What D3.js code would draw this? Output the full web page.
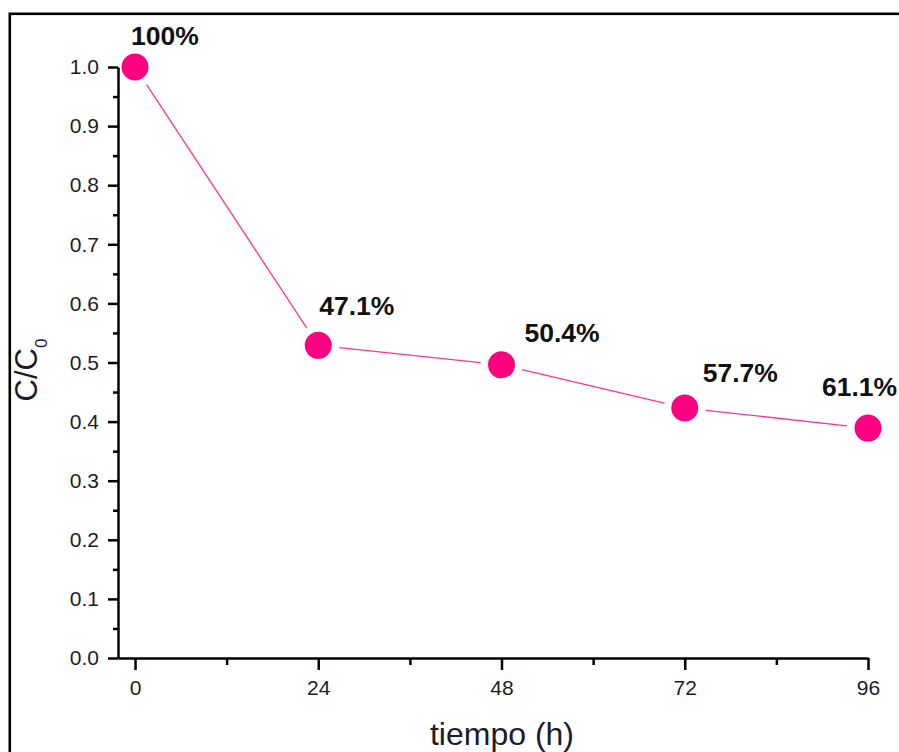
<!DOCTYPE html>
<html>
<head>
<meta charset="utf-8">
<script src="https://cdn.jsdelivr.net/npm/d3@7"></script>
<style>
  html, body { margin: 0; padding: 0; background: #fff; }
  svg { display: block; }
  text { font-family: Arial, "Liberation Sans", sans-serif; }
</style>
</head>
<body>
<svg id="chart" width="899" height="752"></svg>
<script>
// ---- data ----
const times = [0, 24, 48, 72, 96];
const ratios = [1.0, 0.529, 0.496, 0.423, 0.389];
const labels = ["100%", "47.1%", "50.4%", "57.7%", "61.1%"];
const xTicks = [0, 24, 48, 72, 96];
const xMinorTicks = [12, 36, 60, 84];
const yTicks = [0, 0.1, 0.2, 0.3, 0.4, 0.5, 0.6, 0.7, 0.8, 0.9, 1.0];
const yMinorTicks = [0.05, 0.15, 0.25, 0.35, 0.45, 0.55, 0.65, 0.75, 0.85, 0.95];

// ---- layout ----
const labelOffsets = [[-4, -22], [1, -30], [23, -23], [18, -26], [-46, -32]];
const svg = d3.select("#chart");
const x = d3.scaleLinear().domain([-2.23, 96]).range([118, 868]);
const y = d3.scaleLinear().domain([0, 1]).range([658, 67]);
const pink = "#ff0080";
const lineColor = "#ff3399";
const textColor = "#1c1c28";

// outer frame
svg.append("rect")
  .attr("x", 9.8).attr("y", 13.8)
  .attr("width", 1000).attr("height", 1000)
  .attr("fill", "none").attr("stroke", "#000").attr("stroke-width", 2.6);

// x axis
const gx = svg.append("g").attr("transform", `translate(0,${y(0)})`);
gx.call(d3.axisBottom(x).tickValues(xTicks).tickSize(12).tickSizeOuter(0).tickPadding(10).tickFormat(d3.format("d")));
svg.append("g").attr("transform", `translate(0,${y(0)})`)
  .call(d3.axisBottom(x).tickValues(xMinorTicks).tickSize(7).tickSizeOuter(0).tickFormat(""))
  .select(".domain").remove();

// y axis
const gy = svg.append("g").attr("transform", `translate(${x(-2.23)},0)`);
gy.call(d3.axisLeft(y).tickValues(yTicks).tickSize(10).tickSizeOuter(0).tickPadding(9).tickFormat(d3.format(".1f")));
svg.append("g").attr("transform", `translate(${x(-2.23)},0)`)
  .call(d3.axisLeft(y).tickValues(yMinorTicks).tickSize(5).tickSizeOuter(0).tickFormat(""))
  .select(".domain").remove();

svg.selectAll(".domain, .tick line").attr("stroke", "#000").attr("stroke-width", 2.5);
svg.selectAll(".tick text")
  .attr("fill", textColor)
  .style("font-family", "Arial, 'Liberation Sans', sans-serif")
  .style("font-size", "21px");

// connecting line with gaps at markers
const pts = times.map((t, i) => [x(t), y(ratios[i])]);
const gap = 21;
for (let i = 0; i < pts.length - 1; i++) {
  const [x1, y1] = pts[i], [x2, y2] = pts[i + 1];
  const dx = x2 - x1, dy = y2 - y1, L = Math.hypot(dx, dy);
  const ux = dx / L, uy = dy / L;
  svg.append("line")
    .attr("x1", x1 + ux * gap).attr("y1", y1 + uy * gap)
    .attr("x2", x2 - ux * gap).attr("y2", y2 - uy * gap)
    .attr("stroke", lineColor).attr("stroke-width", 1.3);
}

// markers
svg.selectAll("circle.pt").data(pts).enter().append("circle")
  .attr("class", "pt")
  .attr("cx", d => d[0]).attr("cy", d => d[1]).attr("r", 13.5)
  .attr("fill", pink);

// annotations
svg.selectAll("text.ann").data(labels).enter().append("text")
  .attr("class", "ann")
  .attr("x", (d, i) => pts[i][0] + labelOffsets[i][0])
  .attr("y", (d, i) => pts[i][1] + labelOffsets[i][1])
  .attr("font-size", 26.5).attr("font-weight", "bold").attr("fill", "#111")
  .text(d => d);

// axis titles
svg.append("text")
  .attr("x", 502).attr("y", 745)
  .attr("text-anchor", "middle").attr("font-size", 32).attr("fill", textColor)
  .text("tiempo (h)");

const yt = svg.append("text")
  .attr("transform", "translate(37,370) rotate(-90)")
  .attr("text-anchor", "middle").attr("font-size", 31).attr("fill", textColor);
yt.append("tspan").text("C/C");
yt.append("tspan").attr("font-size", 17).attr("dy", 10).text("0");
</script>
</body>
</html>
